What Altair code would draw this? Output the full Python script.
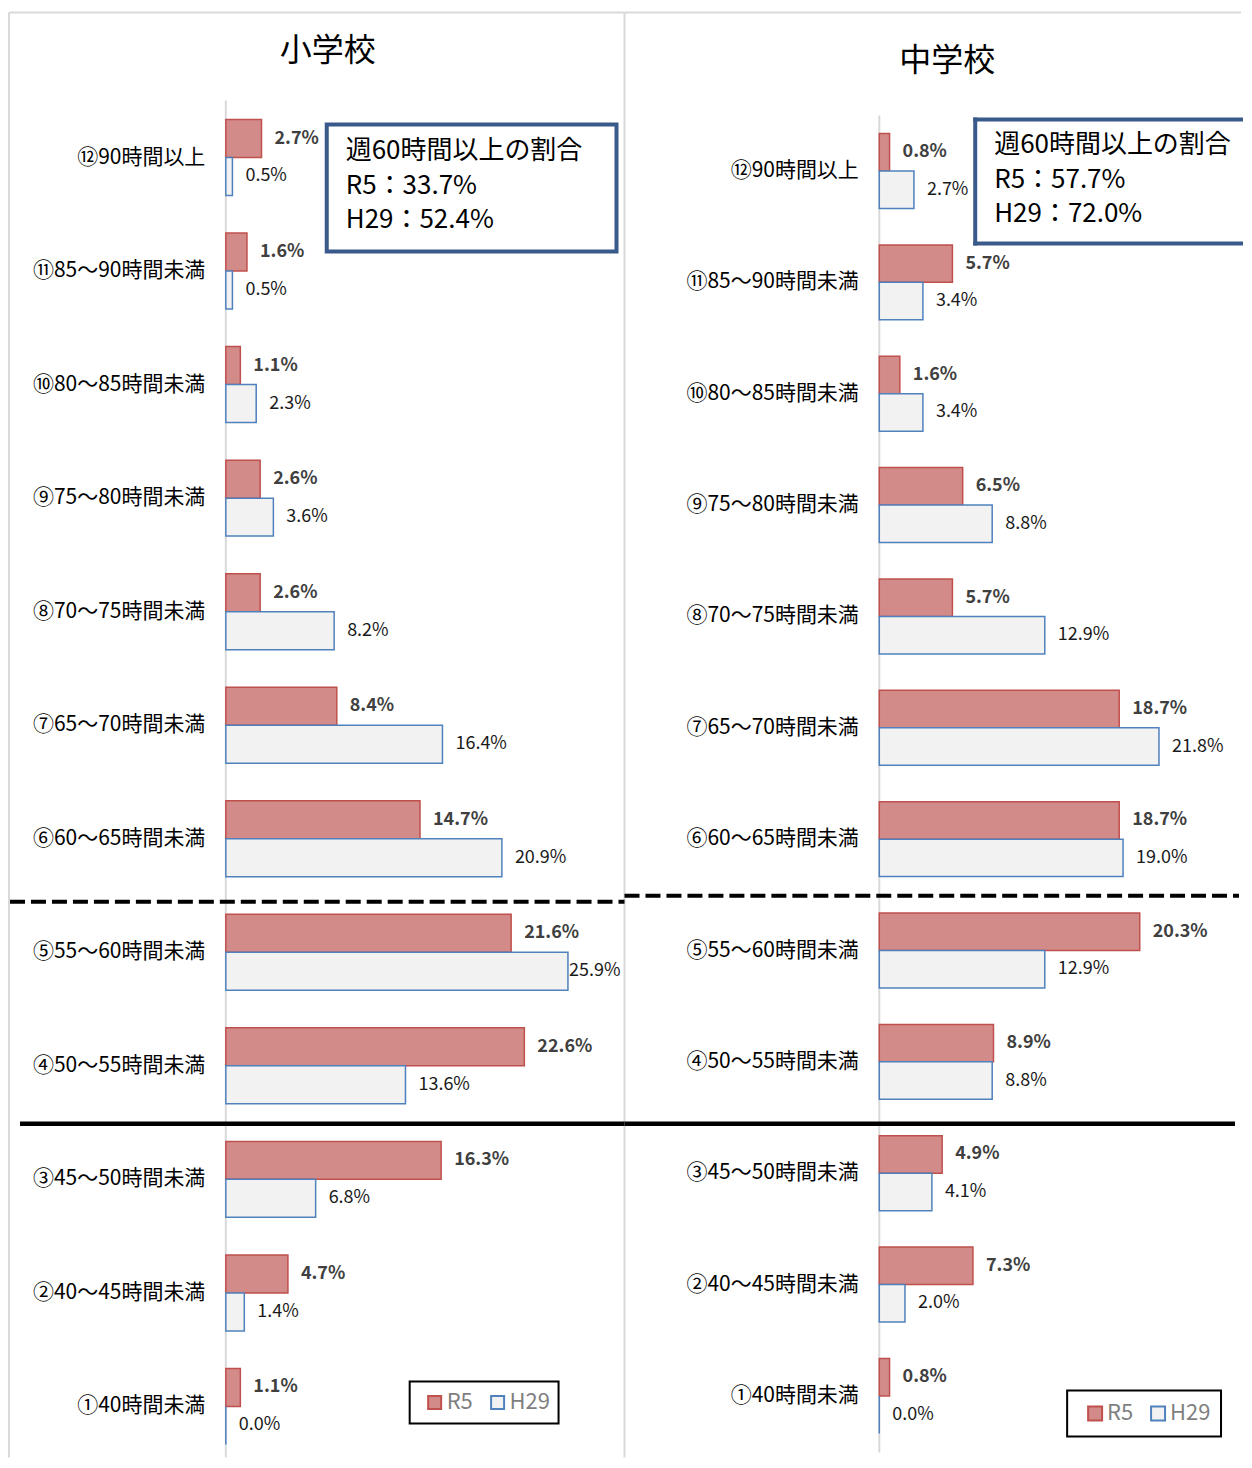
import altair as alt
import pandas as pd

FONT = "Noto Sans CJK JP"

categories = ["⑫90時間以上", "⑪85～90時間未満", "⑩80～85時間未満", "⑨75～80時間未満",
              "⑧70～75時間未満", "⑦65～70時間未満", "⑥60～65時間未満", "⑤55～60時間未満",
              "④50～55時間未満", "③45～50時間未満", "②40～45時間未満", "①40時間未満"]
series = ["R5", "H29"]
elem_r5 = [2.7, 1.6, 1.1, 2.6, 2.6, 8.4, 14.7, 21.6, 22.6, 16.3, 4.7, 1.1]
elem_h29 = [0.5, 0.5, 2.3, 3.6, 8.2, 16.4, 20.9, 25.9, 13.6, 6.8, 1.4, 0.0]
jhs_r5 = [0.8, 5.7, 1.6, 6.5, 5.7, 18.7, 18.7, 20.3, 8.9, 4.9, 7.3, 0.8]
jhs_h29 = [2.7, 3.4, 3.4, 8.8, 12.9, 21.8, 19.0, 12.9, 8.8, 4.1, 2.0, 0.0]
panel_titles = ["小学校", "中学校"]
box_heading = "週60時間以上の割合"
share60_r5 = [33.7, 57.7]
share60_h29 = [52.4, 72.0]

FILL = ["#d38b8a", "#f2f2f2"]
STROKE = ["#c0504d", "#4f81bd"]
FRAME = "#d9d9d9"
BOXC = "#3a5a8c"

ONE = alt.Data(values=[{"k": 1}])
H = 1358


def rule(x, x2, y, y2, color, width, dash=None, cap="butt"):
    kw = dict(color=color, strokeWidth=width, strokeCap=cap)
    if dash:
        kw["strokeDash"] = dash
    return alt.Chart(ONE).mark_rule(**kw).encode(
        x=alt.value(x), x2=alt.value(x2), y=alt.value(y), y2=alt.value(y2))


def text(s, x, y, size, weight="normal", color="#000000", align="left"):
    return alt.Chart(ONE).mark_text(text=s, font=FONT, fontSize=size, fontWeight=weight,
                                    color=color, align=align, baseline="middle").encode(
        x=alt.value(x), y=alt.value(y))


def panel(r5, h29, g, idx):
    df = pd.DataFrame({
        "cat": categories * 2,
        "series": ["R5"] * len(categories) + ["H29"] * len(categories),
        "value": r5 + h29,
    })
    df["label"] = df["value"].map(lambda v: f"{v:.1f}%")
    W = g["W"]
    xscale = alt.Scale(domain=[0, g["xmax"]], nice=False, zero=True)
    y_enc = alt.Y("cat:N", sort=categories,
                  scale=alt.Scale(domain=categories, paddingInner=g["pi"],
                                  paddingOuter=g["po"], align=g["al"]),
                  axis=alt.Axis(title=None, domain=False, ticks=False, grid=False,
                                labelFont=FONT, labelFontSize=21, labelColor="#000000",
                                labelPadding=21, labelLimit=400))
    yo_enc = alt.YOffset("series:N", sort=series,
                         scale=alt.Scale(domain=series, paddingInner=0, paddingOuter=0))
    leg = alt.Legend(title=None, orient="none", legendX=g["lx"], legendY=g["ly"],
                     direction="horizontal", symbolType="square", symbolSize=g["ss"],
                     symbolStrokeWidth=2, labelFont=FONT, labelFontSize=22,
                     labelColor="#7f7f7f", labelOffset=1, columnPadding=13, padding=0)
    bars = alt.Chart(df).mark_bar(strokeWidth=1.5).encode(
        x=alt.X("value:Q", scale=xscale, axis=None),
        y=y_enc, yOffset=yo_enc,
        fill=alt.Fill("series:N", scale=alt.Scale(domain=series, range=FILL), legend=leg),
        stroke=alt.Stroke("series:N", scale=alt.Scale(domain=series, range=STROKE), legend=leg),
    )

    def labels(sname, weight, color):
        return alt.Chart(df).transform_filter(alt.datum.series == sname).transform_calculate(
            labx=f"min(datum.value, {g['clamp']})"
        ).mark_text(align="left", baseline="middle", dx=13, font=FONT, fontSize=18,
                    fontWeight=weight, color=color).encode(
            x=alt.X("labx:Q", scale=xscale, axis=None),
            y=y_enc, yOffset=yo_enc, text="label:N")

    layers = []
    layers += g["deco"]
    layers += [bars, labels("R5", "bold", "#404040"), labels("H29", "normal", "#1a1a1a")]
    # summary box
    bx, bx2, by, by2 = g["box"]
    if g["box_open"]:
        layers.append(alt.Chart(ONE).mark_rect(fill="white").encode(
            x=alt.value(bx), x2=alt.value(bx2), y=alt.value(by), y2=alt.value(by2)))
        layers.append(rule(bx, bx2, by, by, BOXC, 4, cap="square"))
        layers.append(rule(bx, bx2, by2, by2, BOXC, 4, cap="square"))
        layers.append(rule(bx, bx, by, by2, BOXC, 4, cap="square"))
    else:
        layers.append(alt.Chart(ONE).mark_rect(fill="white", stroke=BOXC, strokeWidth=4).encode(
            x=alt.value(bx), x2=alt.value(bx2), y=alt.value(by), y2=alt.value(by2)))
    tx, ty = g["btext"]
    lines = [box_heading, f"R5：{share60_r5[idx]:.1f}%", f"H29：{share60_h29[idx]:.1f}%"]
    for i, s in enumerate(lines):
        layers.append(text(s, tx, ty[i], 26))
    # title
    layers.append(text(panel_titles[idx], g["title"][0], g["title"][1], 32, align="center"))
    # legend frame
    lx1, lx2, ly1, ly2 = g["lbox"]
    layers.append(alt.Chart(ONE).mark_rect(fill="white", fillOpacity=0, stroke="#000000",
                                           strokeWidth=2).encode(
        x=alt.value(lx1), x2=alt.value(lx2), y=alt.value(ly1), y2=alt.value(ly2)))
    return alt.layer(*layers).properties(width=W, height=H)


WL = 399
gl = dict(
    W=WL, xmax=WL / 13.22, pi=0.331, po=0.141, al=0.594, clamp=25.0,
    lx=198, ly=1292, ss=169,
    box=(101, 391, 24, 151), box_open=False, btext=(120, [51, 86, 120]),
    title=(102, -50), lbox=(184, 333, 1282, 1324),
    deco=[
        rule(-217, WL, -88, -88, FRAME, 2),
        rule(-217, -217, -88, H, FRAME, 2),
        rule(WL, WL, -88, H, FRAME, 2),
        rule(0, 0, 0, H, FRAME, 2),
        rule(-216, WL, 802, 802, "#000000", 4, dash=[15, 6]),
        rule(-206, WL, 1024, 1024, "#000000", 4.5),
    ],
)
WR = 362
gr = dict(
    W=WR, xmax=WR / 12.84, pi=0.327, po=0.256, al=0.579, clamp=100.0,
    lx=205, ly=1303, ss=196,
    box=(96, WR, 19, 143), box_open=True, btext=(115, [45, 80, 114]),
    title=(68, -40), lbox=(188, 342, 1291, 1337),
    deco=[
        rule(-255, WR, -88, -88, FRAME, 2),
        rule(0, 0, 15, 1353, FRAME, 2),
        rule(-255, WR - 2, 796, 796, "#000000", 4, dash=[15, 6]),
        rule(-255, WR - 6, 1024, 1024, "#000000", 4.5),
    ],
)

left = panel(elem_r5, elem_h29, gl, 0)
right = panel(jhs_r5, jhs_h29, gr, 1)

chart = alt.hconcat(left, right, spacing=255, bounds="flush").resolve_scale(
    x="independent", y="independent", yOffset="independent",
    fill="independent", stroke="independent"
).resolve_legend(fill="independent", stroke="independent").properties(
    padding={"top": 3, "left": 0, "right": 0, "bottom": 0},
    background="white",
).configure_view(stroke="transparent", strokeWidth=0)

chart.save("out.html", embed_options={"renderer": "svg", "actions": False})
